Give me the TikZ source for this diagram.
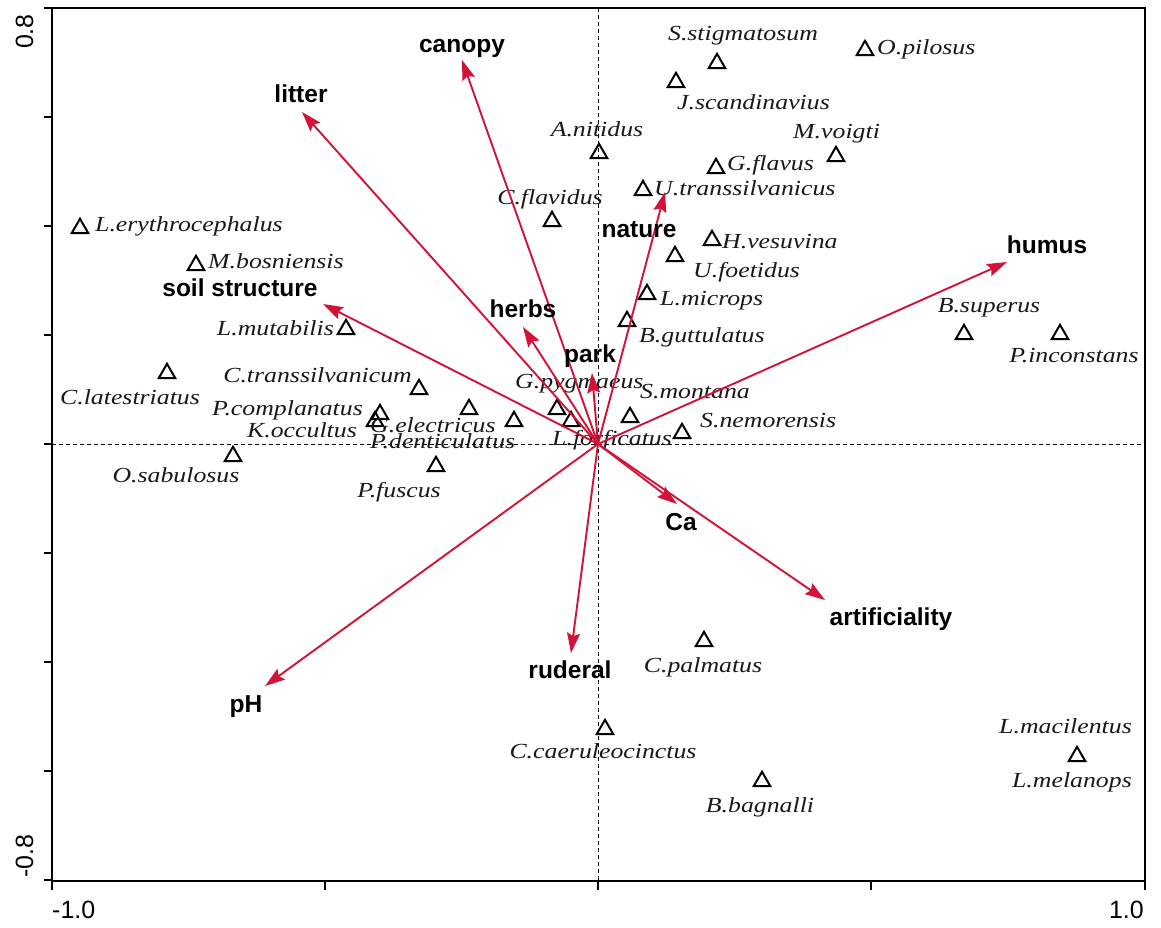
\documentclass[tikz,border=0pt]{standalone}
\usepackage{fontspec}
\setmainfont{Liberation Sans}
\newfontfamily\spfont[FakeStretch=1.2]{Liberation Serif}
\usetikzlibrary{arrows.meta,shapes.geometric}
\definecolor{arrowred}{RGB}{212,18,56}
\tikzset{
  tri/.style={draw=black, line width=2pt, regular polygon, regular polygon sides=3,
    minimum size=19pt, inner sep=0pt, yshift=-2.3pt},
  splab/.style={font=\spfont\itshape\fontsize{21.5}{24}\selectfont, inner sep=0pt, text=black!90},
  envlab/.style={font=\bfseries\fontsize{24.5}{28}\selectfont, anchor=base, inner sep=0pt},
  ticklab/.style={font=\fontsize{25}{28}\selectfont, inner sep=0pt},
  vec/.style={draw=arrowred, line width=1.9pt, -{Stealth[length=20pt,width=13pt,inset=3pt]}},
  axisline/.style={line width=2.5pt, black},
  zeroline/.style={line width=1pt, dash pattern=on 4pt off 3pt, black},
}
\begin{document}
\begin{tikzpicture}[x=1pt,y=-1pt]
\useasboundingbox (0,0) rectangle (1161,927);
% zero lines
\coordinate (hl) at (52,444); \coordinate (hr) at (1145,444);
\coordinate (vt) at (598,8); \coordinate (vb) at (598,881);
\draw[zeroline] (hl) -- (hr);
\draw[zeroline] (vt) -- (vb);
% frame
\draw[axisline] (52,8) rectangle (1145,881);
\foreach \yy in {8,117,226,335,444,553,662,771,880} \draw[line width=2.2pt] (44,\yy) -- (52,\yy);
\foreach \xx in {52,325,598,871,1145} \draw[line width=2.2pt] (\xx,881) -- (\xx,890);
\node[ticklab, rotate=90, anchor=base east] (y1) at (33,14) {0.8};
\node[ticklab, rotate=90, anchor=base west] (y2) at (33,878) {-0.8};
\node[ticklab, anchor=base west] (x1) at (52,918) {-1.0};
\node[ticklab, anchor=base east] (x2) at (1144,918) {1.0};
% species triangles
\node[tri] (tSst) at (717,61) {};
\node[tri] (tOpi) at (865,48) {};
\node[tri] (tJsc) at (676,80) {};
\node[tri] (tAni) at (599,151) {};
\node[tri] (tMvo) at (836,154) {};
\node[tri] (tGfl) at (716,166) {};
\node[tri] (tUtr) at (643,188) {};
\node[tri] (tCfl) at (552,219) {};
\node[tri] (tHve) at (712,238) {};
\node[tri] (tUfo) at (675,254) {};
\node[tri] (tLer) at (80,226) {};
\node[tri] (tMbo) at (196,263) {};
\node[tri] (tLmi) at (647,292) {};
\node[tri] (tBgu) at (627,319) {};
\node[tri] (tLmu) at (346,327) {};
\node[tri] (tBsu) at (964,332) {};
\node[tri] (tPin) at (1060,332) {};
\node[tri] (tCla) at (167,371) {};
\node[tri] (tCtr) at (419,387) {};
\node[tri] (tPco) at (380,412) {};
\node[tri] (tKoc) at (375,419) {};
\node[tri] (tGel) at (469,407) {};
\node[tri] (tPde) at (514,419) {};
\node[tri] (tGpy) at (557,407) {};
\node[tri] (tLfo) at (571,419) {};
\node[tri] (tSmo) at (630,415) {};
\node[tri] (tSne) at (682,431) {};
\node[tri] (tOsa) at (233,454) {};
\node[tri] (tPfu) at (436,464) {};
\node[tri] (tCpa) at (704,639) {};
\node[tri] (tCca) at (605,727) {};
\node[tri] (tBba) at (762,779) {};
\node[tri] (tLma) at (1077,754) {};
% species labels
\node[splab, anchor=base] (lSst) at (743,40) {S.stigmatosum};
\node[splab, anchor=base west] (lOpi) at (877,54) {O.pilosus};
\node[splab, anchor=base west] (lJsc) at (677,109) {J.scandinavius};
\node[splab, anchor=base] (lAni) at (597,136) {A.nitidus};
\node[splab, anchor=base west] (lMvo) at (793,138) {M.voigti};
\node[splab, anchor=base west] (lGfl) at (727,170) {G.flavus};
\node[splab, anchor=base west] (lUtr) at (654,195) {U.transsilvanicus};
\node[splab, anchor=base] (lCfl) at (550,204) {C.flavidus};
\node[splab, anchor=base west] (lHve) at (722,248) {H.vesuvina};
\node[splab, anchor=base west] (lUfo) at (693,277) {U.foetidus};
\node[splab, anchor=base west] (lLer) at (95,231) {L.erythrocephalus};
\node[splab, anchor=base west] (lMbo) at (208,268) {M.bosniensis};
\node[splab, anchor=base west] (lLmi) at (660,305) {L.microps};
\node[splab, anchor=base west] (lBgu) at (639,342) {B.guttulatus};
\node[splab, anchor=base east] (lLmu) at (334,335) {L.mutabilis};
\node[splab, anchor=base] (lBsu) at (989,312) {B.superus};
\node[splab, anchor=base] (lPin) at (1074,362) {P.inconstans};
\node[splab, anchor=base] (lCla) at (130,404) {C.latestriatus};
\node[splab, anchor=base east] (lCtr) at (412,382) {C.transsilvanicum};
\node[splab, anchor=base east] (lPco) at (363,415) {P.complanatus};
\node[splab, anchor=base east] (lKoc) at (357,437) {K.occultus};
\node[splab, anchor=base west] (lGel) at (370,432) {G.electricus};
\node[splab, anchor=base west] (lPde) at (370,448) {P.denticulatus};
\node[splab, anchor=base west] (lGpy) at (515,388) {G.pygmaeus};
\node[splab, anchor=base west] (lLfo) at (552,445) {L.forficatus};
\node[splab, anchor=base west] (lSmo) at (640,398) {S.montana};
\node[splab, anchor=base west] (lSne) at (700,427) {S.nemorensis};
\node[splab, anchor=base] (lOsa) at (176,482) {O.sabulosus};
\node[splab, anchor=base] (lPfu) at (399,497) {P.fuscus};
\node[splab, anchor=base] (lCpa) at (703,672) {C.palmatus};
\node[splab, anchor=base] (lCca) at (603,758) {C.caeruleocinctus};
\node[splab, anchor=base] (lBba) at (760,812) {B.bagnalli};
\node[splab, anchor=base east] (lLma) at (1132,733) {L.macilentus};
\node[splab, anchor=base east] (lLme) at (1132,787) {L.melanops};
% environmental vectors
\coordinate (o) at (598,444);
\coordinate (eLit) at (302,112);
\coordinate (eCan) at (462,60);
\coordinate (eSoi) at (323,304);
\coordinate (eHer) at (523,327);
\coordinate (ePar) at (592,373);
\coordinate (eNat) at (665,192);
\coordinate (eHum) at (1007,262);
\coordinate (eCa) at (677,504);
\coordinate (eArt) at (825,600);
\coordinate (eRud) at (571,653);
\coordinate (ePH) at (265,686);
\foreach \t in {eLit,eCan,eSoi,eHer,ePar,eNat,eHum,eCa,eArt,eRud,ePH} \draw[vec] (o) -- (\t);
\node[envlab] (nLit) at (301,102) {litter};
\node[envlab] (nCan) at (462,52) {canopy};
\node[envlab] (nSoi) at (240,296) {soil structure};
\node[envlab] (nHer) at (523,317) {herbs};
\node[envlab] (nPar) at (590,362) {park};
\node[envlab] (nNat) at (639,237) {nature};
\node[envlab] (nHum) at (1047,253) {humus};
\node[envlab] (nCa) at (681,530) {Ca};
\node[envlab] (nArt) at (891,625) {artificiality};
\node[envlab] (nRud) at (570,678) {ruderal};
\node[envlab] (nPH) at (246,712) {pH};
\end{tikzpicture}
\end{document}
